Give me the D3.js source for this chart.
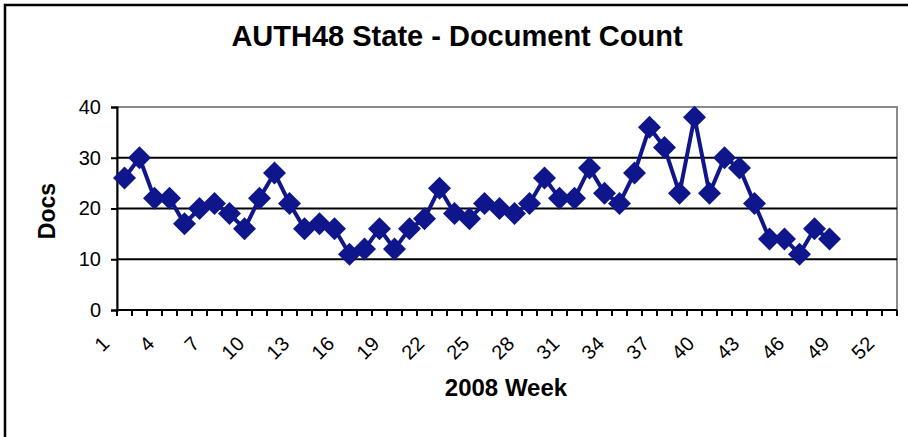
<!DOCTYPE html>
<html>
<head>
<meta charset="utf-8">
<script src="https://cdn.jsdelivr.net/npm/d3@7"></script>
<style>
  html, body { margin: 0; padding: 0; background: #fff; }
  svg { display: block; font-family: "Liberation Sans", Arial, sans-serif; }
</style>
</head>
<body>
<div id="chart"></div>
<script>
// weeks 1..52 on the category axis, data for the first 48
const weeks = d3.range(1, 53);
const docCounts = [26, 30, 22, 22, 17, 20, 21, 19, 16, 22, 27, 21, 16, 17, 16, 11,
  12, 16, 12, 16, 18, 24, 19, 18, 21, 20, 19, 21, 26, 22, 22, 28, 23, 21, 27, 36,
  32, 23, 38, 23, 30, 28, 21, 14, 14, 11, 16, 14];
const yTicks = [0, 10, 20, 30, 40];
const xLabelWeeks = d3.range(1, 53, 3);

const width = 908, height = 437;
const plot = { left: 117, right: 897, top: 107, bottom: 310 };
const navy = "#0f168c";

const svg = d3.select("#chart").append("svg")
  .attr("width", width)
  .attr("height", height);

// outer chart frame (only top and left edges visible)
svg.append("rect")
  .attr("x", 5).attr("y", 5)
  .attr("width", 1200).attr("height", 1200)
  .attr("fill", "none")
  .attr("stroke", "#000")
  .attr("stroke-width", 2.5);

const x = d3.scaleBand()
  .domain(weeks)
  .range([plot.left, plot.right])
  .padding(0);

const y = d3.scaleLinear()
  .domain([0, 40])
  .range([plot.bottom, plot.top]);

// plot area border (grey)
svg.append("rect")
  .attr("x", plot.left).attr("y", plot.top)
  .attr("width", plot.right - plot.left)
  .attr("height", plot.bottom - plot.top)
  .attr("fill", "none")
  .attr("stroke", "#8a8a8a")
  .attr("stroke-width", 2);

// gridlines
svg.append("g").selectAll("line")
  .data(yTicks.filter((d) => d > 0 && d < 40))
  .join("line")
  .attr("x1", plot.left).attr("x2", plot.right)
  .attr("y1", (d) => y(d)).attr("y2", (d) => y(d))
  .attr("stroke", "#000")
  .attr("stroke-width", 2);

// y axis
const yAxis = svg.append("g")
  .attr("transform", `translate(${plot.left},0)`)
  .call(d3.axisLeft(y).tickValues(yTicks).tickSize(6).tickPadding(10));
yAxis.select(".domain").attr("stroke", "#000").attr("stroke-width", 2);
yAxis.selectAll(".tick line").attr("stroke", "#000").attr("stroke-width", 2);
yAxis.selectAll(".tick text")
  .attr("font-size", 20)
  .attr("font-family", "Liberation Sans, Arial, sans-serif")
  .attr("fill", "#000");

// x axis line and ticks at category boundaries
svg.append("line")
  .attr("x1", plot.left).attr("x2", plot.right)
  .attr("y1", plot.bottom).attr("y2", plot.bottom)
  .attr("stroke", "#000")
  .attr("stroke-width", 2);

svg.append("g").selectAll("line")
  .data(weeks.concat([53]))
  .join("line")
  .attr("x1", (d) => (d <= 52 ? x(d) : x(52) + x.bandwidth()))
  .attr("x2", (d) => (d <= 52 ? x(d) : x(52) + x.bandwidth()))
  .attr("y1", plot.bottom)
  .attr("y2", plot.bottom + 6)
  .attr("stroke", "#000")
  .attr("stroke-width", 2);

// rotated week labels
svg.append("g").selectAll("text")
  .data(xLabelWeeks)
  .join("text")
  .attr("transform", (d) =>
    `translate(${x(d) + x.bandwidth() / 2 - 14},${plot.bottom + 35}) rotate(-45)`)
  .attr("text-anchor", "end")
  .attr("font-size", 20)
  .attr("fill", "#000")
  .text((d) => d);

// line + diamond markers
const pts = docCounts.map((v, i) => ({ week: weeks[i], value: v }));

const line = d3.line()
  .x((d) => x(d.week) + x.bandwidth() / 2)
  .y((d) => y(d.value));

svg.append("path")
  .datum(pts)
  .attr("d", line)
  .attr("fill", "none")
  .attr("stroke", navy)
  .attr("stroke-width", 4)
  .attr("stroke-linejoin", "round");

svg.append("g").selectAll("path")
  .data(pts)
  .join("path")
  .attr("transform", (d) =>
    `translate(${x(d.week) + x.bandwidth() / 2},${y(d.value)})`)
  .attr("d", "M0,-11.5L11.5,0L0,11.5L-11.5,0Z")
  .attr("fill", navy);

// titles
svg.append("text")
  .attr("x", 457).attr("y", 46)
  .attr("text-anchor", "middle")
  .attr("font-size", 29)
  .attr("font-weight", "bold")
  .text("AUTH48 State - Document Count");

svg.append("text")
  .attr("x", 506).attr("y", 396)
  .attr("text-anchor", "middle")
  .attr("font-size", 24)
  .attr("font-weight", "bold")
  .text("2008 Week");

svg.append("text")
  .attr("transform", "translate(55,211) rotate(-90)")
  .attr("text-anchor", "middle")
  .attr("font-size", 23)
  .attr("font-weight", "bold")
  .text("Docs");
</script>
</body>
</html>
